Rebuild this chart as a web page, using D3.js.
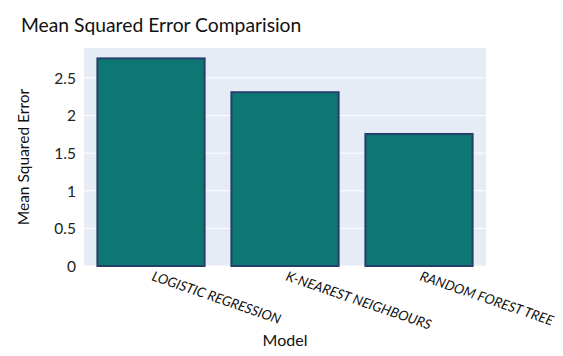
<!DOCTYPE html>
<html><head><meta charset="utf-8">
<script src="https://cdn.jsdelivr.net/npm/d3@7"></script>
<style>body{margin:0;background:#fff}svg{display:block}text{font-family:Lato,"Open Sans",sans-serif}</style>
</head><body><svg id="c" width="563" height="356"></svg>
<script>
const categories = ["LOGISTIC REGRESSION", "K-NEAREST NEIGHBOURS", "RANDOM FOREST TREE"];
const mseValues = [2.76, 2.31, 1.755];
const yTicks = [0, 0.5, 1, 1.5, 2, 2.5];
const yTickLabels = ["0", "0.5", "1", "1.5", "2", "2.5"];
const titleText = "Mean Squared Error Comparision";
const xTitle = "Model", yTitle = "Mean Squared Error";

const svg = d3.select("#c");
const m = {l:84, r:77, t:48, b:90};
const W = 563, H = 356;
const pw = W - m.l - m.r, ph = H - m.t - m.b;
const x = d3.scaleBand().domain(categories).range([m.l, m.l + pw]).paddingInner(0.2).paddingOuter(0.1);
const y = d3.scaleLinear().domain([0, d3.max(mseValues) * 1.05]).range([m.t + ph, m.t]);

svg.append("rect").attr("x", m.l).attr("y", m.t).attr("width", pw).attr("height", ph).attr("fill", "#e5ecf6");

const yAxis = d3.axisLeft(y).tickValues(yTicks).tickFormat((d,i)=>yTickLabels[i]).tickSize(0).tickPadding(8);
const ga = svg.append("g").attr("transform", `translate(${m.l},0)`).call(yAxis);
ga.select(".domain").remove();
ga.selectAll("text").attr("font-size", 15.5).attr("fill", "#222").attr("dy", "0.35em");
svg.append("g").selectAll("line").data(yTicks).join("line")
  .attr("x1", m.l).attr("x2", m.l + pw).attr("y1", d=>y(d)).attr("y2", d=>y(d))
  .attr("stroke", "#fff").attr("stroke-width", 1);

svg.append("g").selectAll("rect").data(categories).join("rect")
  .attr("x", d=>x(d)).attr("width", x.bandwidth())
  .attr("y", (d,i)=>y(mseValues[i])).attr("height", (d,i)=>y(0)-y(mseValues[i]))
  .attr("fill", "#0e7773").attr("stroke", "#253f6b").attr("stroke-width", 2);

const xAxis = d3.axisBottom(x).tickSize(0).tickPadding(0);
const gx = svg.append("g").attr("transform", `translate(0,${m.t+ph})`).call(xAxis);
gx.select(".domain").remove();
gx.selectAll("text").attr("font-size", 13.6).attr("fill", "#111").attr("font-style", "italic")
  .attr("text-anchor", "start").attr("dy", null).attr("y", 0)
  .attr("transform", "translate(0,14) rotate(19)");

svg.append("text").attr("x", 21).attr("y", 32).attr("font-size", 19.3).attr("fill", "#111").text(titleText);
svg.append("text").attr("x", m.l + pw/2).attr("y", 346).attr("text-anchor", "middle").attr("font-size", 16).attr("fill", "#111").text(xTitle);
svg.append("text").attr("transform", `translate(29,${m.t+ph/2}) rotate(-90)`).attr("text-anchor", "middle").attr("font-size", 15.5).attr("fill", "#111").text(yTitle);
</script></body></html>
